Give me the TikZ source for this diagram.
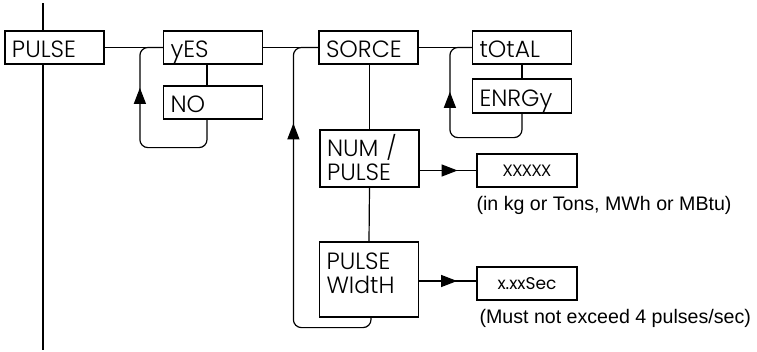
\documentclass[tikz,border=0pt]{standalone}
\usepackage{fontspec}
\usepackage{tikz}
\usetikzlibrary{arrows.meta, decorations.markings}
\newfontfamily\boxfont{Poppins Light}
\newfontfamily\valfont{Poppins}
\newfontfamily\notefont{Liberation Sans}

\begin{document}
\begin{tikzpicture}[x=1pt,y=-1pt,line width=1.2pt,
  menubox/.style={draw,fill=white,minimum width=99pt,minimum height=33pt,inner xsep=7pt,inner ysep=0pt,
    text width=85pt,align=left,text height=20.4pt,text depth=0pt,font=\boxfont\fontsize{23.5}{24}\selectfont},
  valbox/.style={draw,minimum width=100pt,minimum height=33pt,inner sep=0pt,font=\boxfont\fontsize{21}{23}\selectfont},
  note/.style={anchor=west,inner sep=0pt,font=\notefont\fontsize{19.6}{22}\selectfont},
  midtip/.style={postaction={decorate},decoration={markings,mark=at position #1 with {\arrow{Triangle[length=16pt,width=12pt]}}}}]
  \useasboundingbox (0,0) rectangle (757,351);
  \node[menubox] (pulse) at (54.5,47.5) {PULSE};
  \node[menubox] (yes) at (213,47.5) {yES};
  \node[menubox] (no) at (213,102.5) {NO};
  \node[menubox] (sorce) at (368.5,47.5) {SORCE};
  \node[menubox] (total) at (522,47.5) {tOtAL};
  \node[menubox,minimum height=34pt] (enrgy) at (522,96) {ENRGy};
  \node[menubox,minimum height=57pt,text height=14pt,text depth=18pt] (numpulse) at (369.5,158.5) {NUM /\\PULSE};
  \node[menubox,minimum height=75pt,text height=14pt,text depth=34.4pt] (pwidth) at (369,279.5) {PULSE\\WIdtH};
  \node[valbox] (xxxxx) at (527,170.5) {xxxxx};
  \node[valbox,font=\valfont\fontsize{17}{20}\selectfont] (xxsec) at (527,283.5) {x.xxSec};
  \node[note] (unitnote) at (476,205.5) {(in kg or Tons, MWh or MBtu)};
  \node[note] (ratenote) at (479,318) {(Must not exceed 4 pulses/sec)};
  % main rail
  \coordinate (railtop) at (43,3);
  \coordinate (railbot) at (43,350);
  \draw (railtop) -- (railtop |- pulse.north);
  \draw (railtop |- pulse.south) -- (railbot);
  \draw (pulse.east) -- (yes.west);
  \draw (yes.east) -- (sorce.west);
  \draw (sorce.east) -- (total.west);
  \draw ([xshift=-6pt]yes.south) -- ([xshift=-6pt]no.north);
  \draw (total.south) -- (enrgy.north);
  \draw (numpulse.north |- sorce.south) -- (numpulse.north);
  \draw (numpulse.south) -- (pwidth.north);
  % return loops
  \draw[rounded corners=8pt,midtip=148pt] ([xshift=-6pt]no.south) -- ++(0,28) -| ([xshift=-23pt]yes.west) -- (yes.west);
  \draw[rounded corners=8pt,midtip=135pt] (enrgy.south) -- ++(0,24) -| ([xshift=-22pt]total.west) -- (total.west);
  \draw[rounded corners=8pt,midtip=285pt] ([xshift=2pt]pwidth.south) -- ++(0,10) -| ([xshift=-25pt]sorce.west) -- (sorce.west);
  \draw[midtip=38pt] (xxxxx.west -| numpulse.east) -- (xxxxx.west);
  \draw[midtip=38pt] ([yshift=2.5pt]xxsec.west -| pwidth.east) -- ([yshift=2.5pt]xxsec.west);
\end{tikzpicture}
\end{document}
